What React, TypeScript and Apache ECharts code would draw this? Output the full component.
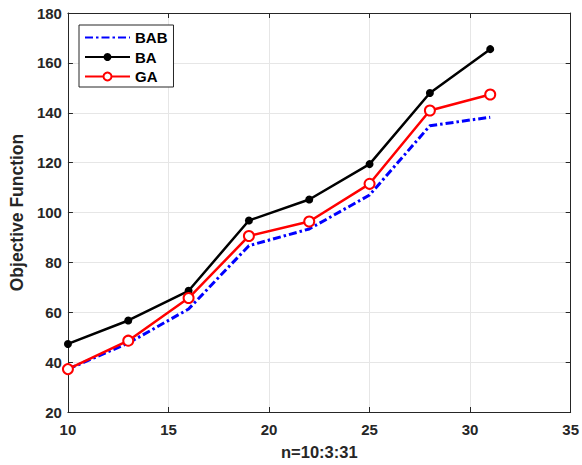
import React, { useEffect, useRef } from "react";
import * as echarts from "echarts";

const xValues = [10, 13, 16, 19, 22, 25, 28, 31];
const babValues = [37.2, 47.6, 61.3, 86.7, 93.4, 107.0, 134.8, 138.2];
const baValues = [47.3, 56.7, 68.6, 96.8, 105.2, 119.4, 147.9, 165.5];
const gaValues = [37.2, 48.6, 65.7, 90.6, 96.4, 111.5, 140.9, 147.3];
const seriesNames = ["BAB", "BA", "GA"];

const FONT = "'Liberation Sans', Arial, Helvetica, sans-serif";
const AXIS_COLOR = "#262626";

export default function App() {
  const ref = useRef<HTMLDivElement>(null);
  useEffect(() => {
    if (!ref.current) return;
    const chart = echarts.init(ref.current, undefined, { renderer: "svg" });
    const pairs = (vals: number[]) => xValues.map((x, i) => [x, vals[i]]);
    const labelStyle = {
      color: AXIS_COLOR,
      fontFamily: FONT,
      fontWeight: "bold" as const,
      fontSize: 15,
    };
    chart.setOption({
      animation: false,
      backgroundColor: "#ffffff",
      grid: { left: 67, right: 8, top: 13, bottom: 53, containLabel: false },
      legend: {
        data: [
          { name: seriesNames[0], itemStyle: { color: "transparent", borderWidth: 0 } },
          { name: seriesNames[1] },
          { name: seriesNames[2] },
        ],
        orient: "vertical",
        left: 79,
        top: 25,
        backgroundColor: "#ffffff",
        borderColor: AXIS_COLOR,
        borderWidth: 1,
        padding: [5, 6, 3, 5],
        itemWidth: 45,
        itemHeight: 10,
        itemGap: 4.5,
        textStyle: { color: "#000", fontFamily: FONT, fontWeight: "bold", fontSize: 15 },
      },
      xAxis: [
        {
          type: "value",
          min: 10,
          max: 35,
          interval: 5,
          name: "n=10:3:31",
          nameLocation: "middle",
          nameGap: 31,
          nameTextStyle: { ...labelStyle, fontSize: 16.5 },
          axisLine: { show: true, onZero: false, lineStyle: { color: AXIS_COLOR, width: 1 } },
          axisTick: { show: true, inside: true, length: 5, lineStyle: { color: AXIS_COLOR } },
          axisLabel: { ...labelStyle, margin: 10 },
          splitLine: { show: true, lineStyle: { color: "#e6e6e6", width: 1 } },
        },
        {
          type: "value",
          position: "top",
          min: 10,
          max: 35,
          interval: 5,
          axisLine: { show: true, onZero: false, lineStyle: { color: AXIS_COLOR, width: 1 } },
          axisTick: { show: true, inside: true, length: 5, lineStyle: { color: AXIS_COLOR } },
          axisLabel: { show: false },
          splitLine: { show: false },
        },
      ],
      yAxis: [
        {
          type: "value",
          min: 20,
          max: 180,
          interval: 20,
          name: "Objective Function",
          nameLocation: "middle",
          nameGap: 41,
          nameTextStyle: { ...labelStyle, fontSize: 17.5 },
          axisLine: { show: true, onZero: false, lineStyle: { color: AXIS_COLOR, width: 1 } },
          axisTick: { show: true, inside: true, length: 5, lineStyle: { color: AXIS_COLOR } },
          axisLabel: { ...labelStyle, margin: 6 },
          splitLine: { show: true, lineStyle: { color: "#e6e6e6", width: 1 } },
        },
        {
          type: "value",
          position: "right",
          min: 20,
          max: 180,
          interval: 20,
          axisLine: { show: true, onZero: false, lineStyle: { color: AXIS_COLOR, width: 1 } },
          axisTick: { show: true, inside: true, length: 5, lineStyle: { color: AXIS_COLOR } },
          axisLabel: { show: false },
          splitLine: { show: false },
        },
      ],
      series: [
        {
          name: seriesNames[0],
          type: "line",
          data: pairs(babValues),
          symbol: "none",
          color: "#0000ff",
          lineStyle: { color: "#0000ff", width: 3, type: [8, 3, 2.5, 3] },
          z: 2,
        },
        {
          name: seriesNames[1],
          type: "line",
          data: pairs(baValues),
          symbol: "circle",
          symbolSize: 8,
          color: "#000000",
          itemStyle: { color: "#000000" },
          lineStyle: { color: "#000000", width: 2.5 },
          z: 3,
        },
        {
          name: seriesNames[2],
          type: "line",
          data: pairs(gaValues),
          symbol: "emptyCircle",
          symbolSize: 10,
          color: "#ff0000",
          itemStyle: { color: "#ff0000", borderColor: "#ff0000", borderWidth: 2.2 },
          lineStyle: { color: "#ff0000", width: 2.5 },
          z: 4,
        },
      ],
    });
    return () => chart.dispose();
  }, []);
  return (
    <div
      ref={ref}
      style={{ position: "fixed", left: 0, top: 0, width: 582, height: 465 }}
    />
  );
}
